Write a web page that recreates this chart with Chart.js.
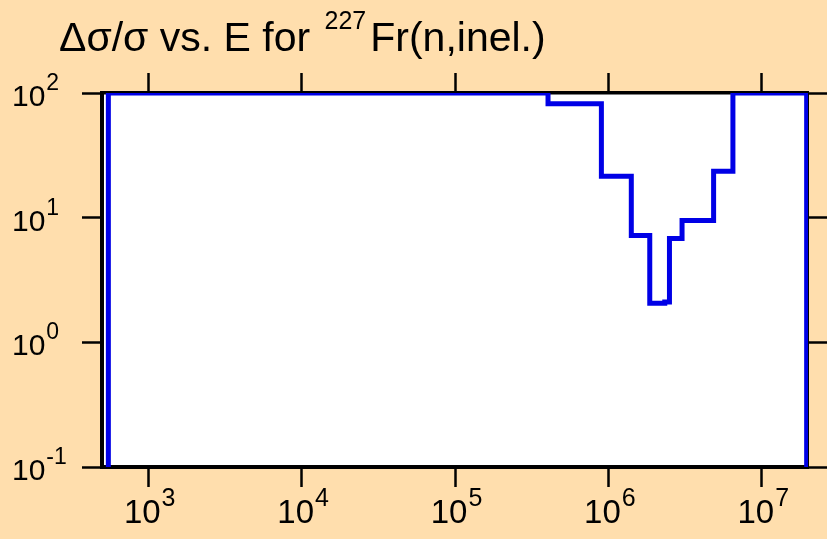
<!DOCTYPE html>
<html>
<head>
<meta charset="utf-8">
<script src="https://cdn.jsdelivr.net/npm/chart.js@4.4.1/dist/chart.umd.min.js"></script>
<style>
  html, body { margin: 0; padding: 0; background: #ffdead; }
  #wrap { width: 827px; height: 539px; }
</style>
</head>
<body>
<div id="wrap"><canvas id="grafico"></canvas></div>
<script>
// Bin edges (eV) and relative uncertainty (%).
// Each value holds from its edge up to the next one (histogram steps).
const energias = [550, 550, 4.04e5, 9.0e5, 1.41e6, 1.86e6, 2.33e6, 2.5e6, 3.02e6, 4.85e6, 6.48e6, 1.96e7];
const incertezas = [0.1, 100, 82, 21.5, 7.2, 2.06, 2.11, 6.8, 9.5, 23.6, 100, 0.1];

// Axis ranges and decade ticks
const limitesX = [500, 2e7];
const limitesY = [0.1, 100];
const ticksX = [1e3, 1e4, 1e5, 1e6, 1e7];
const ticksY = [0.1, 1, 10, 100];

// Title pieces: text, superscript mass number, reaction
const titulo = ["\u0394\u03c3/\u03c3 vs. E for", "227", "Fr(n,inel.)"];

(function () {
  "use strict";

  const FONTE = '"Liberation Sans", Arial, Helvetica, sans-serif';

  function expoente(v) {
    return String(Math.round(Math.log10(v)));
  }

  // chart area background (white box)
  const fundoPlot = {
    id: "fundoPlot",
    beforeDraw(chart) {
      const a = chart.chartArea;
      const ctx = chart.ctx;
      ctx.save();
      ctx.fillStyle = "#ffffff";
      ctx.fillRect(a.left, a.top, a.right - a.left, a.bottom - a.top);
      ctx.restore();
    },
  };

  // "10" with superscript exponent, and the title with its superscript
  const rotulos = {
    id: "rotulos",
    afterDraw(chart) {
      const ctx = chart.ctx;
      ctx.save();
      ctx.fillStyle = "#000000";
      ctx.textBaseline = "alphabetic";
      ctx.textAlign = "left";

      // x axis labels, centred under the ticks
      const sx = chart.scales.x;
      ticksX.forEach((v) => {
        const px = sx.getPixelForValue(v);
        ctx.font = "33px " + FONTE;
        const wBase = ctx.measureText("10").width;
        ctx.font = "25px " + FONTE;
        const wExp = ctx.measureText(expoente(v)).width;
        const x0 = px - (wBase + wExp) / 2 + 1;
        ctx.font = "33px " + FONTE;
        ctx.fillText("10", x0, 523);
        ctx.font = "25px " + FONTE;
        ctx.fillText(expoente(v), x0 + wBase + 1, 506);
      });

      // y axis labels, left aligned
      const sy = chart.scales.y;
      ticksY.forEach((v) => {
        const py = sy.getPixelForValue(v);
        ctx.font = "30px " + FONTE;
        const wBase = ctx.measureText("10").width;
        ctx.fillText("10", 12, py + 13);
        ctx.font = "23px " + FONTE;
        ctx.fillText(expoente(v), 12 + wBase + 1, py - 3);
      });

      // title
      ctx.font = "41px " + FONTE;
      const w1 = ctx.measureText(titulo[0] + " ").width;
      ctx.fillText(titulo[0], 59, 51);
      ctx.font = "25px " + FONTE;
      const xSup = 59 + w1 + 3;
      ctx.fillText(titulo[1], xSup, 29);
      const w2 = ctx.measureText(titulo[1]).width;
      ctx.font = "41px " + FONTE;
      ctx.fillText(titulo[2], xSup + w2 + 4, 51);

      ctx.restore();
    },
  };

  function eixoLog(posicao, limites, ticks, tamanho, bordaLargura) {
    return {
      type: "logarithmic",
      position: posicao,
      min: limites[0],
      max: limites[1],
      z: 1,
      afterBuildTicks: (scale) => {
        scale.ticks = ticks.map((v) => ({ value: v }));
      },
      afterFit: (scale) => {
        if (posicao === "top" || posicao === "bottom") scale.height = tamanho;
        else scale.width = tamanho;
      },
      ticks: { callback: () => "", padding: 0 },
      grid: {
        drawOnChartArea: false,
        drawTicks: true,
        tickLength: 20,
        tickWidth: 2.5,
        tickColor: "#000000",
      },
      border: { display: true, color: "#000000", width: bordaLargura },
    };
  }

  function init() {
    const canvas = document.getElementById("grafico");
    const pontos = energias.map((e, i) => ({ x: e, y: incertezas[i] }));

    new Chart(canvas, {
      type: "line",
      data: {
        datasets: [
          {
            data: pontos,
            stepped: true,
            borderColor: "#0000e6",
            borderWidth: 5,
            pointRadius: 0,
            fill: false,
          },
        ],
      },
      options: {
        responsive: true,
        maintainAspectRatio: false,
        animation: false,
        layout: { padding: 0 },
        scales: {
          x: eixoLog("bottom", limitesX, ticksX, 72, 4),
          x2: eixoLog("top", limitesX, ticksX, 93, 3.5),
          y: eixoLog("left", limitesY, ticksY, 102, 4),
          y2: eixoLog("right", limitesY, ticksY, 19, 2),
        },
        plugins: {
          legend: { display: false },
          tooltip: { enabled: false },
        },
      },
      plugins: [fundoPlot, rotulos],
    });
  }

  document.addEventListener("DOMContentLoaded", init);
})();
</script>
</body>
</html>
